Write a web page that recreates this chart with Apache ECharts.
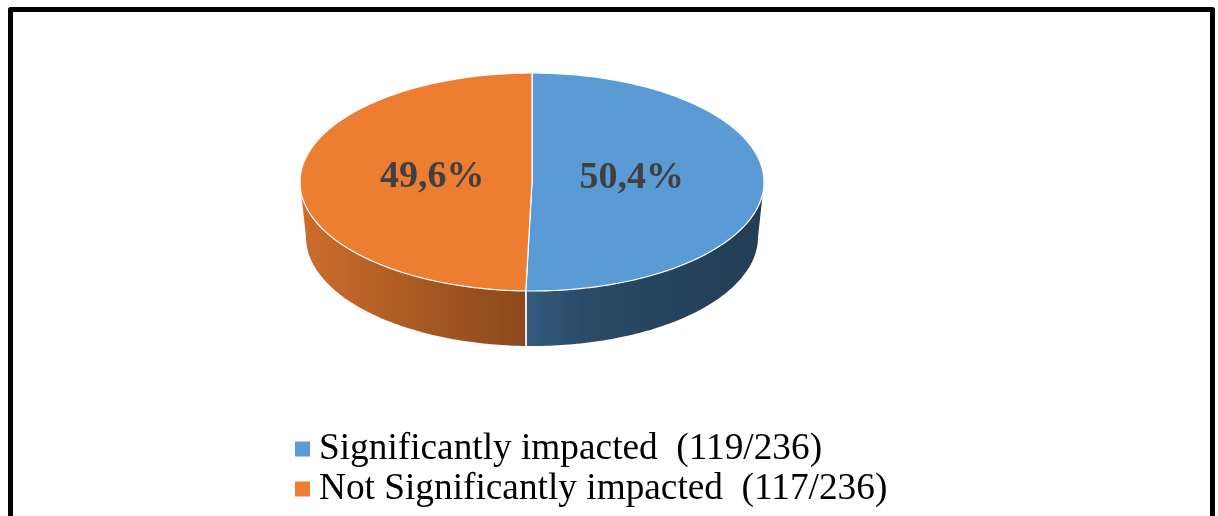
<!DOCTYPE html>
<html>
<head>
<meta charset="utf-8">
<script src="https://cdn.jsdelivr.net/npm/echarts@6/dist/echarts.min.js"></script>
<style>
  html, body { margin: 0; padding: 0; background: #fff; }
  #chart { width: 1218px; height: 516px; }
</style>
</head>
<body>
<div id="chart"></div>
<script>
// Survey result: how many respondents were significantly impacted
const categories = ['Significantly impacted', 'Not Significantly impacted'];
const counts = [119, 117];
const topColors = ['#5B9BD5', '#ED7D31'];
const sideStops = [
  [[0, '#355B7F'], [0.25, '#2A4A68'], [1, '#233D55']],
  [[0, '#CC6D2C'], [1, '#8A481C']]
];

const total = counts.reduce((s, v) => s + v, 0);
const fmtPct = v => (v / total * 100).toFixed(1).replace('.', ',') + '%';
const legendNames = categories.map((c, i) => c + '  (' + counts[i] + '/' + total + ')');

// Tilted-disc geometry (pixels)
const PIE = { cx: 532, cy: 182, rx: 232, ry: 109, depth: 55, shrink: 6, labelK: 0.43 };
const SERIF = "'Liberation Serif', 'Times New Roman', serif";

// Slice angles, clockwise from 12 o'clock, in degrees
const startAngles = [];
counts.reduce((acc, v, i) => { startAngles[i] = acc; return acc + v / total * 360; }, 0);

function topPt(t) {
  const r = t * Math.PI / 180;
  return [PIE.cx + PIE.rx * Math.sin(r), PIE.cy - PIE.ry * Math.cos(r)];
}
function botPt(t) {
  const r = t * Math.PI / 180;
  return [PIE.cx + (PIE.rx - PIE.shrink) * Math.sin(r), PIE.cy + PIE.depth - PIE.ry * Math.cos(r)];
}
function arc(fn, from, to) {
  const n = Math.max(2, Math.ceil(Math.abs(to - from)));
  const pts = [];
  for (let k = 0; k <= n; k++) pts.push(fn(from + (to - from) * k / n));
  return pts;
}

function makeRender(i) {
  return function (params, api) {
    const value = api.value(0);
    const a0 = startAngles[i];
    const a1 = a0 + value / total * 360;
    const children = [];

    // front wall (only the part facing the viewer, 90..270 degrees)
    const lo = Math.max(a0, 90), hi = Math.min(a1, 270);
    if (hi > lo) {
      const pts = arc(topPt, lo, hi).concat(arc(botPt, hi, lo));
      children.push({
        type: 'polygon',
        shape: { points: pts },
        style: {
          fill: new echarts.graphic.LinearGradient(0, 0, 1, 0,
            sideStops[i].map(s => ({ offset: s[0], color: s[1] })))
        }
      });
    }
    // white seam where slices meet on the wall
    [a0, a1].forEach(a => {
      if (a > 90 && a < 270) {
        const p = topPt(a), q = botPt(a);
        children.push({
          type: 'line',
          shape: { x1: p[0], y1: p[1], x2: q[0], y2: q[1] },
          style: { stroke: '#ffffff', lineWidth: 1.5 }
        });
      }
    });
    // top face
    children.push({
      type: 'polygon',
      shape: { points: [[PIE.cx, PIE.cy]].concat(arc(topPt, a0, a1)) },
      style: { fill: topColors[i], stroke: '#ffffff', lineWidth: 1.2 }
    });
    // percentage label
    const mid = (a0 + a1) / 2 * Math.PI / 180;
    children.push({
      type: 'text',
      x: PIE.cx + PIE.labelK * PIE.rx * Math.sin(mid),
      y: PIE.cy - PIE.labelK * PIE.ry * Math.cos(mid) - 4,
      style: {
        text: fmtPct(value),
        fontFamily: SERIF,
        fontWeight: 'bold',
        fontSize: 38,
        fill: '#404040',
        align: 'center',
        verticalAlign: 'middle'
      }
    });
    return { type: 'group', children: children };
  };
}

const chart = echarts.init(document.getElementById('chart'), null, { renderer: 'canvas' });
chart.setOption({
  animation: false,
  backgroundColor: '#ffffff',
  legend: {
    orient: 'vertical',
    left: 290,
    top: 424,
    icon: 'rect',
    itemWidth: 15,
    itemHeight: 15,
    itemGap: 0,
    selectedMode: false,
    data: legendNames,
    textStyle: {
      fontFamily: SERIF,
      fontSize: 37.3,
      color: '#000000',
      lineHeight: 40,
      padding: [0, 0, 0, 4]
    }
  },
  series: counts.map((v, i) => ({
    type: 'custom',
    name: legendNames[i],
    coordinateSystem: 'none',
    silent: true,
    itemStyle: { color: topColors[i] },
    data: [[v]],
    renderItem: makeRender(i)
  })),
  graphic: [{
    type: 'rect',
    silent: true,
    z: 100,
    shape: { x: 10.5, y: 9.5, width: 1202, height: 600 },
    style: { fill: 'none', stroke: '#000000', lineWidth: 5, lineJoin: 'round' }
  }]
});
</script>
</body>
</html>
